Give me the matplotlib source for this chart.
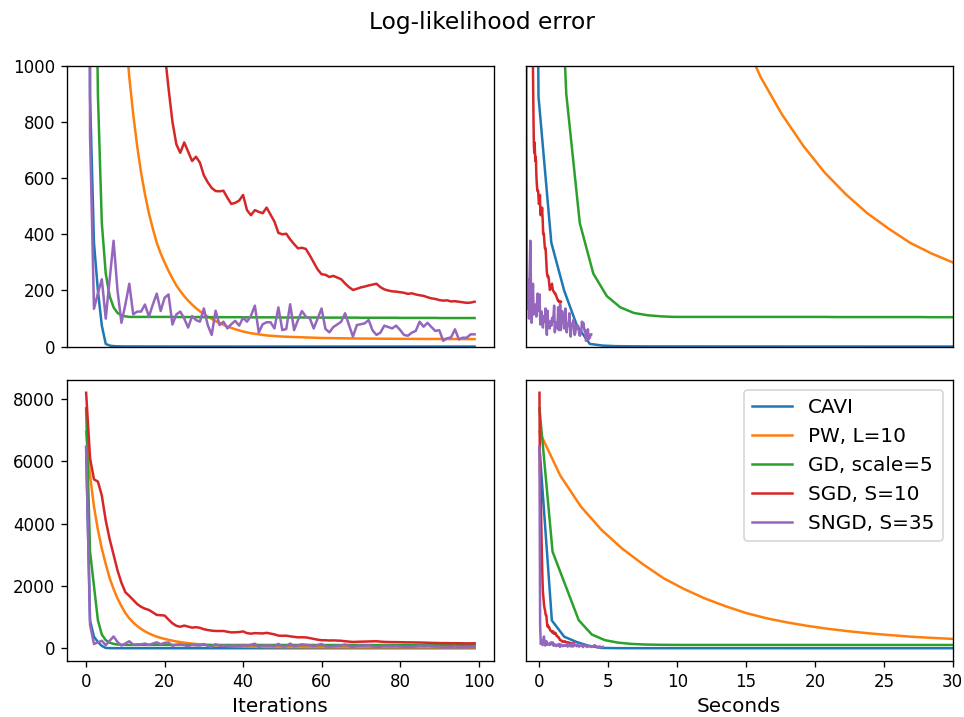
import numpy as np
import matplotlib
matplotlib.use("Agg")
import matplotlib.pyplot as plt

# ---------------- data ----------------
iterations = list(range(100))

cavi = [6450, 890, 370, 200, 75, 10, 4, 2, 1.5, 1.2,
        1.0, 1.0, 0.9, 0.9, 0.9, 0.8, 0.8, 0.8, 0.8, 0.8,
        0.7, 0.7, 0.7, 0.7, 0.7, 0.7, 0.7, 0.6, 0.6, 0.6,
        0.6, 0.6, 0.6, 0.6, 0.6, 0.6, 0.6, 0.5, 0.5, 0.5,
        0.5, 0.5, 0.5, 0.5, 0.5, 0.5, 0.5, 0.5, 0.5, 0.5,
        0.5, 0.5, 0.5, 0.5, 0.5, 0.5, 0.5, 0.5, 0.5, 0.5,
        0.5, 0.5, 0.5, 0.5, 0.5, 0.5, 0.5, 0.5, 0.5, 0.5,
        0.5, 0.5, 0.5, 0.5, 0.5, 0.5, 0.5, 0.5, 0.5, 0.5,
        0.5, 0.5, 0.5, 0.5, 0.5, 0.5, 0.5, 0.5, 0.5, 0.5,
        0.5, 0.5, 0.5, 0.5, 0.5, 0.5, 0.5, 0.5, 0.5, 0.5]

pw = [6950, 5550, 4550, 3800, 3200, 2700, 2250, 1900, 1600, 1350,
      1130, 960, 827, 715, 620, 542, 475, 420, 370, 332,
      300, 270, 243, 218, 198, 180, 164, 150, 137, 126,
      116, 107, 99, 91, 84, 78, 72, 67, 62, 58,
      54, 51, 48, 46, 44, 42, 40, 39, 38, 37,
      36, 35.5, 35, 34.5, 34, 33.5, 33, 32.5, 32, 31.5,
      31, 30.8, 30.6, 30.4, 30.2, 30, 29.8, 29.6, 29.4, 29.2,
      29, 28.9, 28.8, 28.7, 28.6, 28.5, 28.4, 28.3, 28.2, 28.1,
      28, 27.9, 27.9, 27.8, 27.8, 27.7, 27.7, 27.6, 27.6, 27.5,
      27.5, 27.4, 27.4, 27.3, 27.3, 27.2, 27.2, 27.1, 27.1, 27.0]

gd = [7700, 3100, 2000, 900, 440, 260, 180, 140, 120, 112,
      108, 106, 106, 106, 106, 106, 106, 106, 106, 106,
      106, 106, 106, 105.5, 105.5, 105.5, 105.5, 105.5, 105.5, 105.5,
      105, 105, 105, 105, 105, 105, 105, 105, 105, 105,
      104.5, 104.5, 104.5, 104.5, 104.5, 104.5, 104.5, 104.5, 104.5, 104.5,
      104, 104, 104, 104, 104, 104, 104, 104, 104, 104,
      103.5, 103.5, 103.5, 103.5, 103.5, 103.5, 103.5, 103.5, 103.5, 103.5,
      103, 103, 103, 103, 103, 103, 103, 103, 103, 103,
      102.5, 102.5, 102.5, 102.5, 102.5, 102.5, 102.5, 102.5, 102.5, 102.5,
      102, 102, 102, 102, 102, 102, 102, 102, 102, 102]

sgd = [8200, 6100, 5420, 5350, 4900, 4100, 3500, 3000, 2500, 2100,
       1800, 1680, 1550, 1420, 1330, 1270, 1230, 1150, 1070, 1060,
       1050, 920, 800, 720, 690, 727, 694, 661, 676, 655,
       610, 585, 565, 554, 553, 555, 530, 508, 512, 520,
       540, 486, 468, 486, 480, 475, 495, 470, 445, 405,
       400, 402, 382, 365, 350, 352, 348, 325, 300, 275,
       258, 256, 248, 252, 246, 240, 225, 212, 202, 206,
       211, 214, 218, 221, 224, 212, 204, 200, 197, 196,
       194, 192, 188, 190, 186, 183, 181, 176, 172, 170,
       166, 164, 165, 161, 162, 160, 158, 156, 157, 160]

sngd = [6470, 750, 135, 190, 240, 100, 240, 377, 200, 85,
        150, 224, 115, 125, 125, 150, 107, 150, 189, 127,
        174, 186, 79, 115, 125, 100, 68, 109, 95, 89,
        136, 77, 42, 128, 77, 89, 65, 80, 92, 75,
        103, 89, 110, 146, 51, 80, 87, 87, 65, 140,
        59, 63, 151, 59, 95, 127, 107, 101, 65, 100,
        136, 63, 51, 70, 79, 89, 119, 77, 36, 77,
        80, 83, 95, 58, 42, 50, 75, 70, 65, 75,
        60, 42, 39, 50, 56, 89, 71, 85, 70, 56,
        59, 21, 30, 33, 62, 26, 32, 32, 44, 44]

# wall-clock seconds per iteration for each method
sec_per_iter = {"CAVI": 0.9, "PW, L=10": 1.5, "GD, scale=5": 0.95,
                "SGD, S=10": 0.025, "SNGD, S=35": 0.0465}

labels = ["CAVI", "PW, L=10", "GD, scale=5", "SGD, S=10", "SNGD, S=35"]
series = [cavi, pw, gd, sgd, sngd]
colors = ["#1f77b4", "#ff7f0e", "#2ca02c", "#d62728", "#9467bd"]

# ---------------- figure ----------------
fig = plt.figure(figsize=(965 / 120, 717 / 120), dpi=120)
W, H = 965.0, 717.0

def pos(l, r, t, b):
    return [l / W, 1 - b / H, (r - l) / W, (b - t) / H]

ax_tl = fig.add_axes(pos(66.7, 494.0, 65.7, 346.7))
ax_tr = fig.add_axes(pos(525.7, 952.7, 65.7, 346.7))
ax_bl = fig.add_axes(pos(66.7, 494.0, 380.0, 661.0))
ax_br = fig.add_axes(pos(525.7, 952.7, 380.0, 661.0))

it = np.array(iterations)
for lab, ys, c in zip(labels, series, colors):
    secs = it * sec_per_iter[lab]
    ax_tl.plot(it, ys, color=c, lw=1.5)
    ax_bl.plot(it, ys, color=c, lw=1.5)
    ax_tr.plot(secs, ys, color=c, lw=1.5)
    ax_br.plot(secs, ys, color=c, lw=1.5, label=lab)

ax_tl.set_ylim(0, 1000)
ax_tr.set_ylim(0, 1000)
ax_tl.set_yticks([0, 200, 400, 600, 800, 1000])
ax_tl.set_xticks([])
ax_tr.set_xticks([])
ax_tr.set_yticks([])
ax_br.set_yticks([])
ax_bl.set_ylim(ax_br.get_ylim())

ax_tr.set_xlim(0, 30)
ax_br.set_xlim(-1, 30)
ax_bl.set_xticks([0, 20, 40, 60, 80, 100])
ax_bl.set_yticks([0, 2000, 4000, 6000, 8000])
ax_br.set_xticks([0, 5, 10, 15, 20, 25, 30])

for ax in (ax_tl, ax_tr, ax_bl, ax_br):
    ax.tick_params(labelsize=10)

ax_bl.set_xlabel("Iterations", fontsize=12)
ax_br.set_xlabel("Seconds", fontsize=12)
ax_br.legend(loc="upper right", fontsize=12)
fig.suptitle("Log-likelihood error", fontsize=14, y=0.985)

fig.savefig("out.png", dpi=120)
